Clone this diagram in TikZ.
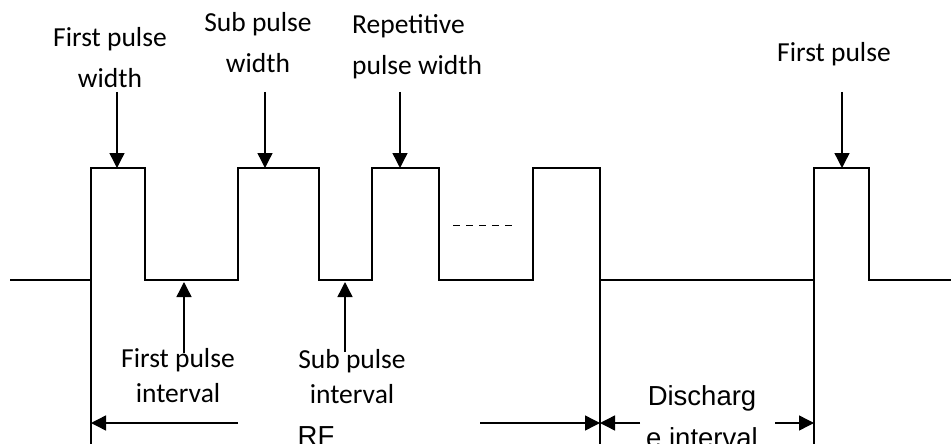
\documentclass[tikz,border=0pt]{standalone}
\usepackage{fontspec}
\setmainfont{Carlito}
\newfontfamily\arialfont{Liberation Sans}
\usetikzlibrary{arrows, arrows.meta, positioning}

\begin{document}
\begin{tikzpicture}[
            x = 1pt,
            y = -1pt,
            > = {Triangle[length=15pt, width=15pt]},
            wave/.style = {line width = 2pt, line join = miter},
            pointer/.style = {->, line width = 1.4pt},
            dim/.style = {line width = 1.4pt},
            lbl/.style = {align = center, anchor = base, inner sep = 0pt,
                font = \fontsize{27.5}{41}\selectfont},
            lblb/.style = {lbl, font = \fontsize{27.5}{35}\selectfont},
            arial/.style = {lbl, font = \arialfont\fontsize{27.5}{42}\selectfont}
        ]
        \useasboundingbox (0,0) rectangle (951,444);

        % waveform
        \draw[wave] (10,280) -- (91,280) -- (91,168) -- (145,168) -- (145,280)
            -- (238,280) -- (238,168) -- (319,168) -- (319,280)
            -- (372,280) -- (372,168) -- (439,168) -- (439,280)
            -- (533,280) -- (533,168) -- (600,168) -- (600,280)
            -- (814,280) -- (814,168) -- (869,168) -- (869,280) -- (951,280);
        \draw[line width = 1pt, dash pattern = on 7pt off 6pt] (453,225) -- (514,225);

        % limits
        \draw[dim] (91,280) -- (91,444);
        \draw[dim] (600,280) -- (600,444);
        \draw[dim] (814,280) -- (814,444);

        % labels above (anchored on the last line)
        \node[lbl] (fpw) at (110,88) {First pulse\\width};
        \node[lbl] (spw) at (258,73) {Sub pulse\\width};
        \node[lbl, align = left, anchor = base west] (rpw) at (352,75) {Repetitive\\pulse width};
        \node[lbl] (fp) at (834,62) {First pulse};

        \coordinate (fpwtop) at (117,168);
        \coordinate (spwtop) at (265,168);
        \coordinate (rpwtop) at (400,168);
        \coordinate (fptop) at (842,168);
        \draw[pointer] (fpwtop |- 0,92) -- (fpwtop);
        \draw[pointer] (spwtop |- 0,92) -- (spwtop);
        \draw[pointer] (rpwtop |- 0,92) -- (rpwtop);
        \draw[pointer] (fptop |- 0,92) -- (fptop);

        % labels below
        \node[lblb] (fpi) at (178,402) {First pulse\\interval};
        \node[lblb] (spi) at (352,403) {Sub pulse\\interval};
        \coordinate (fpilow) at (184,282);
        \coordinate (spilow) at (345,282);
        \draw[pointer] (fpilow |- 0,353) -- (fpilow);
        \draw[pointer] (spilow |- 0,352) -- (spilow);

        % spans
        \node[arial] (rf) at (316,445) {RF};
        \node[arial] (dis) at (702,447) {Discharg\\e interval};
        \coordinate (rfa) at (238,423);
        \coordinate (rfb) at (480,423);
        \coordinate (disa) at (640,423);
        \coordinate (disb) at (775,423);
        \draw[pointer] (rfa) -- (rfa -| 91,0);
        \draw[pointer] (rfb) -- (rfb -| 600,0);
        \draw[pointer] (disa) -- (disa -| 600,0);
        \draw[pointer] (disb) -- (disb -| 814,0);
    \end{tikzpicture}
\end{document}
